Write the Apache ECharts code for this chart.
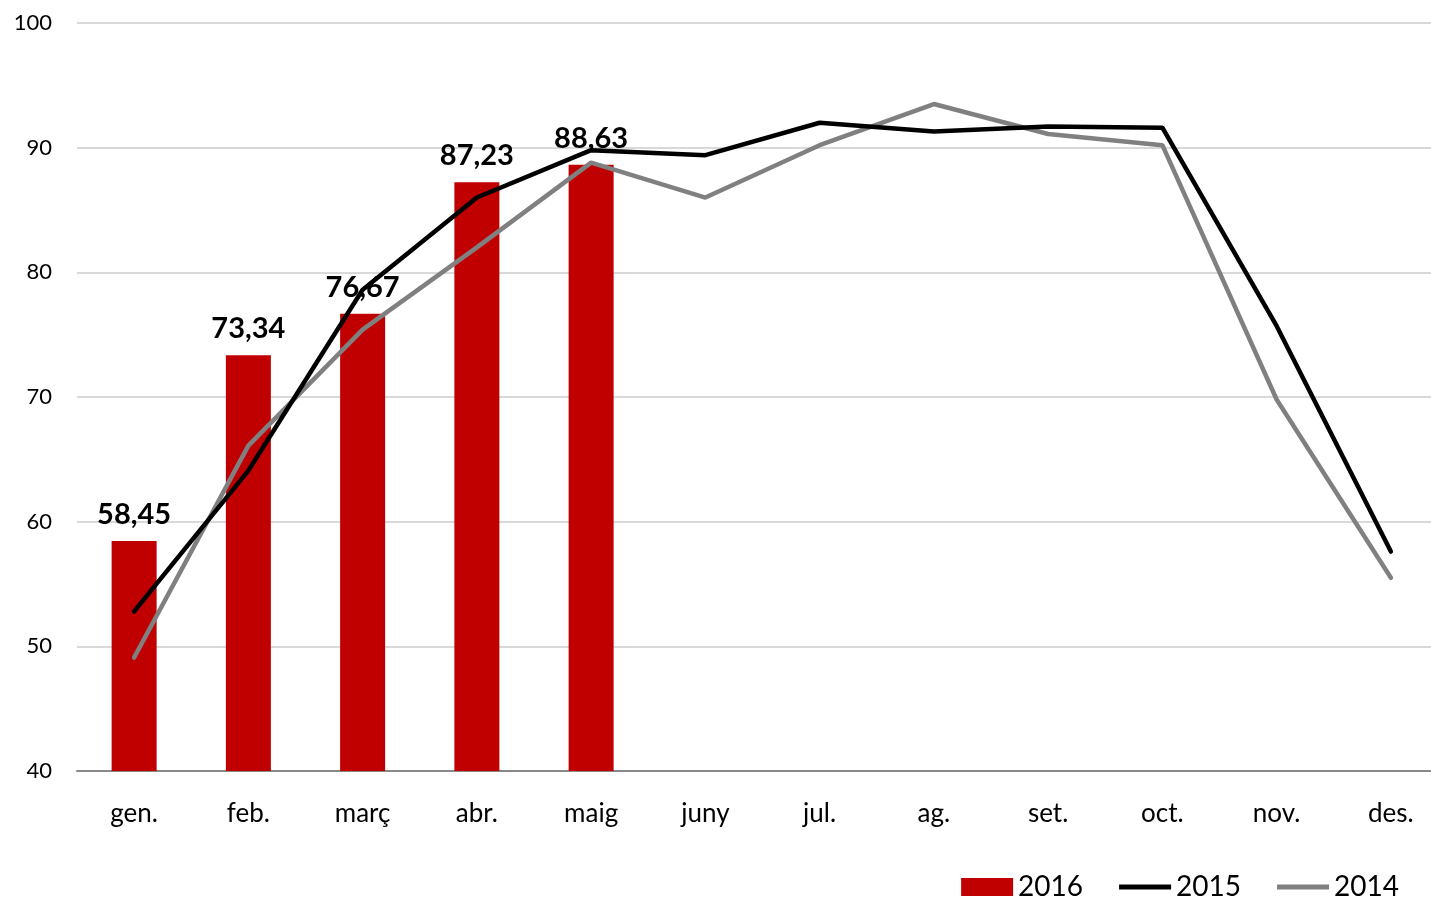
<!DOCTYPE html>
<html>
<head>
<meta charset="utf-8">
<script src="https://cdn.jsdelivr.net/npm/echarts@6/dist/echarts.min.js"></script>
<style>
  html, body { margin: 0; padding: 0; background: #fff; }
  #main { width: 1431px; height: 898px; }
</style>
</head>
<body>
<div id="main"></div>
<script>
var months = ['gen.', 'feb.', 'març', 'abr.', 'maig', 'juny', 'jul.', 'ag.', 'set.', 'oct.', 'nov.', 'des.'];
var values2016 = [58.45, 73.34, 76.67, 87.23, 88.63];
var values2015 = [52.8, 64.1, 78.6, 86.0, 89.8, 89.4, 92.0, 91.3, 91.7, 91.6, 75.7, 57.6];
var values2014 = [49.1, 66.1, 75.4, 82.0, 88.8, 86.0, 90.2, 93.5, 91.1, 90.2, 69.8, 55.5];

var myChart = echarts.init(document.getElementById('main'));
var font = 'Lato, "Open Sans", sans-serif';
// thin bar used as legend icon for the line series
var lineIcon = 'path://M0,0 L52,0 L52,5 L0,5 Z';

var option = {
  animation: false,
  textStyle: { fontFamily: font },
  grid: {
    left: 77,
    top: 23,
    right: -17,
    bottom: 127,
    outerBoundsMode: 'none'
  },
  legend: {
    right: 27,
    top: 868,
    itemWidth: 52,
    itemHeight: 18,
    itemGap: 36,
    textStyle: { fontSize: 28, color: '#000', fontFamily: font },
    data: [
      { name: '2016', icon: 'rect' },
      { name: '2015', icon: lineIcon },
      { name: '2014', icon: lineIcon }
    ]
  },
  xAxis: {
    type: 'category',
    data: months,
    axisLine: { lineStyle: { color: '#898989', width: 2 } },
    axisTick: { show: false },
    axisLabel: { fontSize: 26, color: '#000', margin: 30, fontFamily: font }
  },
  yAxis: {
    type: 'value',
    min: 40,
    max: 100,
    interval: 10,
    axisLine: { show: false },
    axisTick: { show: false },
    splitLine: { lineStyle: { color: '#d9d9d9', width: 2 } },
    axisLabel: { fontSize: 22, color: '#000', margin: 25, fontFamily: font }
  },
  series: [
    {
      name: '2016',
      type: 'bar',
      data: values2016,
      barWidth: '39.4%',
      itemStyle: { color: '#c00000' },
      label: {
        show: true,
        position: 'top',
        distance: 12,
        fontSize: 29,
        fontWeight: 'bold',
        color: '#000',
        fontFamily: font,
        formatter: function (p) {
          return p.value.toFixed(2).replace('.', ',');
        }
      },
      z: 1
    },
    {
      name: '2015',
      type: 'line',
      data: values2015,
      symbol: 'none',
      lineStyle: { color: '#000', width: 4.5, cap: 'round' },
      itemStyle: { color: '#000' },
      z: 3
    },
    {
      name: '2014',
      type: 'line',
      data: values2014,
      symbol: 'none',
      lineStyle: { color: '#808080', width: 4.5, cap: 'round' },
      itemStyle: { color: '#808080' },
      z: 2
    }
  ]
};

myChart.setOption(option);
</script>
</body>
</html>
